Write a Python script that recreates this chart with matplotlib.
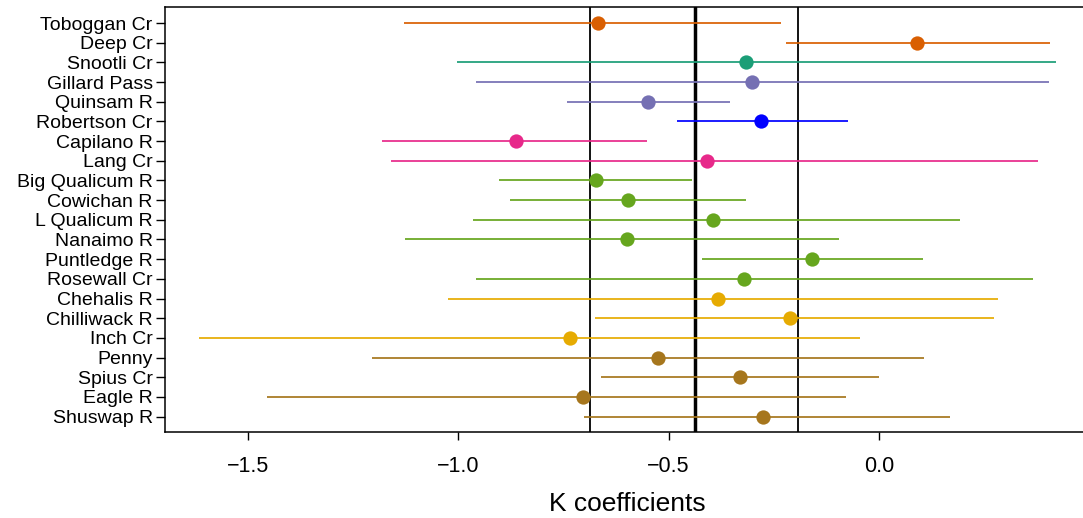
import matplotlib
matplotlib.use("Agg")
import matplotlib.pyplot as plt

plt.rcParams['font.family'] = ['Liberation Sans', 'DejaVu Sans']

sites = ["Toboggan Cr", "Deep Cr", "Snootli Cr", "Gillard Pass", "Quinsam R",
         "Robertson Cr", "Capilano R", "Lang Cr", "Big Qualicum R", "Cowichan R",
         "L Qualicum R", "Nanaimo R", "Puntledge R", "Rosewall Cr", "Chehalis R",
         "Chilliwack R", "Inch Cr", "Penny", "Spius Cr", "Eagle R", "Shuswap R"]
estimate = [-0.667, 0.090, -0.315, -0.302, -0.549, -0.280, -0.864, -0.408, -0.672, -0.596,
            -0.394, -0.599, -0.159, -0.321, -0.382, -0.211, -0.735, -0.525, -0.330, -0.703, -0.276]
lower = [-1.128, -0.222, -1.002, -0.957, -0.741, -0.480, -1.181, -1.160, -0.904, -0.878,
         -0.964, -1.127, -0.421, -0.958, -1.024, -0.676, -1.617, -1.206, -0.660, -1.454, -0.701]
upper = [-0.232, 0.406, 0.420, 0.403, -0.355, -0.074, -0.551, 0.378, -0.445, -0.317,
         0.192, -0.094, 0.104, 0.367, 0.282, 0.273, -0.045, 0.107, 0.000, -0.079, 0.169]
group = [1, 1, 2, 3, 3, 4, 5, 5, 6, 6, 6, 6, 6, 6, 7, 7, 7, 8, 8, 8, 8]
ref_lines = [-0.687, -0.437, -0.193]   # lower, mean, upper
ref_widths = [1.3, 2.5, 1.3]
x_ticks = [-1.5, -1.0, -0.5, 0.0]
x_tick_labels = ["\u22121.5", "\u22121.0", "\u22120.5", "0.0"]

palette = {1: "#D95F02", 2: "#1B9E77", 3: "#7570B3", 4: "#0000FF",
           5: "#E7298A", 6: "#66A61E", 7: "#E6AB02", 8: "#A6761D"}

W, H = 1083, 518
fig = plt.figure(figsize=(W / 100, H / 100), dpi=100)

n = len(sites)
ys = [n - i for i in range(n)]
lo_all, hi_all = min(lower), max(upper)
rng = hi_all - lo_all
xlim = (lo_all - 0.04 * rng, hi_all + 0.04 * rng)
ylim = (1 - 0.04 * (n - 1), n + 0.04 * (n - 1))

# axes placement in pixels (right edge runs just past the figure edge)
px_per_unit = (879 - 248) / 1.5
left_px = 879 + xlim[0] * px_per_unit
right_px = 879 + xlim[1] * px_per_unit
top_px, bot_px = 7.3, 432.3
ax = fig.add_axes([left_px / W, 1 - bot_px / H, (right_px - left_px) / W, (bot_px - top_px) / H])

for v, lw in zip(ref_lines, ref_widths):
    ax.axvline(v, color="black", lw=lw, zorder=1)

for y, e, lo, hi, g in zip(ys, estimate, lower, upper, group):
    c = palette[g]
    ax.plot([lo, hi], [y, y], color=c, lw=1.25, solid_capstyle="butt", zorder=2)
    ax.plot([e], [y], "o", color=c, markersize=10.3, markeredgewidth=0, zorder=3)

ax.set_xlim(*xlim)
ax.set_ylim(*ylim)
ax.set_yticks(ys)
ax.set_yticklabels(sites, fontsize=14)
ax.set_xticks(x_ticks)
ax.set_xticklabels(x_tick_labels, fontsize=15.5)
ax.tick_params(axis="y", length=6.5, width=1.0, pad=2)
ax.tick_params(axis="x", length=5.8, width=1.0, pad=11)
ax.set_xlabel("K coefficients", fontsize=19, labelpad=11)
for s in ax.spines.values():
    s.set_linewidth(1.1)

fig.savefig("out.png", dpi=100)
